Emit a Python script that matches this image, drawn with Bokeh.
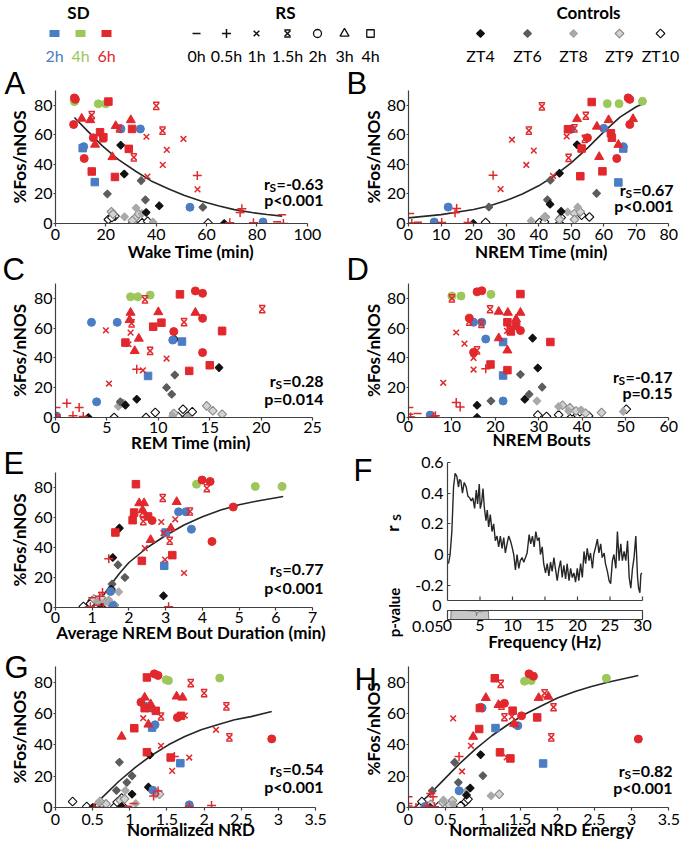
import math
from bokeh.plotting import figure
from bokeh.models import Label, Range1d, FixedTicker, CustomJSTickFormatter
from bokeh.layouts import column, row
from bokeh.embed import file_html
from bokeh.resources import INLINE

# ---------------------------------------------------------------- data
# point groups, in this order in every panel (count per group in *_n)
CODES = ["Z4", "Z6", "Z8", "Z9", "Z10", "b2", "b4", "g2",
         "r2", "r3", "r4", "r1", "r15", "r05", "r0"]

A_x = [25.9, 27.3, 36, 41.2, 67, 20.6, 35.7, 58.5, 34, 27.4, 32, 34.3, 38.7,
       22.2, 31.8, 33, 30.5, 22.8, 21, 23.6, 30.8, 34.4, 36.6, 60.6, 22.4,
       11.2, 26, 33.7, 53.4, 82.4, 10.8, 15.6, 7.5, 17, 20,
       7.5, 7.9, 7.2, 15, 11.4, 10.4, 13.8, 23.9, 29.9, 22.6, 15.7,
       21, 17.7, 30.4, 19, 29.1, 14.4, 23.6, 36.1, 44.2, 42.6, 50.8, 56.4, 36.5,
       40, 14.4, 42.5, 25.2, 31.1, 18.9, 56.3, 74, 73.3, 69.2, 78.6, 90.5, 90, 88, 88.5]
A_y = [53, 33.5, 7.5, 12, 0, 20, 16, 11, 29, 4.5, 10.5, 6.7, 1,
       8, 4, 6.5, 2, 6.3, 2.7, 5, 0.7, 0.5, 1.5, 0.3, 4,
       52, 64, 64, 11, 1, 51, 28, 82.5, 81, 81,
       85, 84, 67, 58, 44, 71, 70, 66, 70, 45, 53.4,
       82.5, 61.7, 64, 58.3, 50.5, 35.2, 31.5, 58.7, 49.8, 39.7, 57.2, 23.1, 31.8,
       79.6, 73.3, 62.8, 64.3, 44.8, 57.8, 32.5, 10, 7.5, 0.5, 0.5, 0, 6, 1.2, 0]
A_n = [5, 4, 4, 5, 7, 5, 2, 3, 5, 6, 7, 6, 6, 6, 3]

B_x = [46.4, 43.5, 51.8, 46.9, 19.9, 43.6, 24.7, 42.7, 57.8, 37.7, 41.8, 48.9, 52,
       42, 46.4, 51, 52.8, 51, 23.7, 40.3, 41.8, 46.4, 46.9, 53.2, 55.6,
       60, 50, 66, 12.2, 7.9, 66, 64.5, 61.1, 64.7, 71.9,
       67.5, 68, 68, 55, 64, 51.8, 57.9, 61.5, 69, 64.5, 58.6,
       56.3, 49, 62.2, 62.5, 53.2, 52.8, 59.6, 31.8, 38.5, 36.2, 48.6, 28.3, 44.4,
       41, 37, 54.5, 51, 49.2, 54.2, 26, 14.8, 14.3, 10.2, 18.3, 1, 0.5, 2.9, 0.4]
B_y = [34, 13, 53.3, 8.2, 0, 29.3, 11.1, 16, 20.4, 1.8, 4.4, 7.8, 11.1,
       4.4, 2.7, 6.7, 7.8, 2.7, 0.7, 0.7, 1.1, 0, 4, 5.6, 4.4,
       64.4, 63.8, 52, 11.1, 1, 50.7, 27.8, 81.1, 81.1, 82.7,
       85, 84, 67, 58, 44, 70.7, 65.6, 70, 70.7, 53.3, 45.1,
       82.2, 63.8, 61.1, 58, 50.7, 32, 35.3, 56.7, 49.3, 39.6, 58.9, 23.3, 32.2,
       79.3, 62.9, 72.9, 64.4, 44.4, 57.3, 32.7, 10.2, 7.2, 0.7, 0.7, 0, 6.7, 0.8, 0.3]
B_n = [5, 4, 4, 5, 7, 5, 2, 3, 5, 6, 7, 6, 6, 6, 3]

C_x = [15.9, 11.6, 7.9, 6.8, 3.2, 11.6, 10.8, 11.3, 6.3, 6.1, 11.4, 12.9, 6.6,
       6.4, 11.5, 14.7, 15.3, 16.2, 5.7, 8.8, 9.7, 11.9, 12.4, 12.8, 13.3,
       3.5, 6, 11.4, 4, 0.1, 12.3, 9, 7.3, 8, 9.2,
       13.6, 14.3, 14.3, 11.5, 14.3, 7.3, 10, 13.6, 7.2, 8.1, 7.7,
       12.1, 10.3, 9.5, 16.2, 6.8, 13, 15, 4.9, 7.3, 7.1, 10.8, 8.5, 5.2,
       8.7, 20.1, 7.4, 12.5, 9.2, 16.2, 7.9, 1.1, 2.3, 1.7, 2.7, 0.1, 0.1, 0.1, 0.1]
C_y = [33.5, 52.5, 12.3, 8.3, 0, 28.6, 20.1, 15.6, 10.5, 7.4, 1.1, 0.3, 9.8,
       9.6, 2.7, 7.8, 4.5, 2.2, 0, 0, 3.4, 0.7, 5.6, 0.7, 3.8,
       63.9, 63.9, 52, 10.5, 1, 51, 27.9, 81.1, 81.1, 82.2,
       85, 83.4, 66.6, 57.7, 43.6, 70.4, 70.8, 70.4, 65.5, 53, 44.7,
       82.7, 63.7, 61, 58.1, 50.3, 31.3, 35.1, 58.5, 57, 49.2, 39.6, 31.7, 22.8,
       79.3, 72.8, 63.2, 64.1, 44.7, 58.1, 32.4, 9.6, 6.7, 1.1, 0.7, 0.3, 6.7, 1.8, 0.4]
C_n = [5, 4, 4, 5, 7, 5, 2, 3, 5, 6, 7, 6, 6, 6, 3]

D_x = [29.8, 28.6, 26.8, 15.8, 15.8, 25.8, 30.8, 27.8, 19, 29.6, 34.6, 36.9, 39.8, 49.5,
       35.5, 38.6, 44.5, 40.8, 37.2, 29.8, 31.8, 34.6, 37.5, 37.7, 39.5, 41.5, 50.2,
       15, 16.9, 17.8, 21.8, 5, 21.8, 21.8, 10, 12.1, 19,
       15.8, 16.9, 14, 25.8, 15, 20.8, 22.9, 25.8, 24.8, 20.8, 22.8,
       25.8, 22.8, 24.8, 23.6, 32.7, 18.9, 22.8, 11, 12.9, 15, 15, 8, 22.7,
       10, 18.8, 14, 16.8, 15.8, 23.3, 17.8, 11, 11.9, 6.2, 5.8, 0.5, 0.2, 0.2, 2.1, 0.2]
D_y = [33.3, 53.3, 12.2, 8.2, 0, 28.9, 20.4, 15.6, 11.1, 11.1, 7.3, 4.4, 5.1, 4,
       8.2, 4.4, 3.3, 2.9, 6.5, 1.6, 0.7, 1.8, 0, 3.8, 3.8, 1.1, 5.6,
       64, 64, 52.7, 11.1, 1.6, 50.7, 28.2, 81.6, 81.6, 82.7,
       84.4, 85.1, 66.7, 58.4, 43.8, 71.1, 70.4, 70.4, 66, 53.3, 45.1,
       82.9, 64, 61.6, 57.8, 50.7, 35.6, 31.8, 57.1, 49.6, 40, 32.2, 23.3, 58.2,
       80, 72.7, 64.4, 62.9, 45.1, 58.6, 32.7, 10, 7.1, 1.1, 0.5, 0.3, 6.7, 2.2, 2.7, 0.4]
D_n = [5, 4, 5, 5, 8, 5, 2, 3, 5, 6, 7, 6, 6, 6, 4]

E_x = [1.74, 1.56, 2.94, 1.52, 1.25, 1.7, 1.89, 1.54, 1.52, 1.72, 1.45, 1.3, 1.15,
       1.05, 1.19, 1.47, 1.6, 1.25, 0.76, 1.0, 1.1, 1.25, 1.43, 1.3, 0.95,
       3.35, 3.55, 3.7, 1.5, 1.56, 3.0, 2.96, 3.84, 5.44, 6.17,
       3.99, 4.21, 4.84, 2.63, 4.26, 2.28, 2.41, 3.3, 2.37, 3.14, 2.59,
       2.19, 2.14, 2.52, 2.1, 1.63, 2.35, 3.18, 2.88, 2.94, 2.43, 3.26, 3.5, 2.98,
       4.12, 2.92, 3.66, 2.37, 3.11, 2.39, 1.45, 1.28, 1.2, 3.08, 0.95, 1.3, 1.0, 1.15, 0.9]
E_y = [52.9, 33.3, 7.8, 12.2, 0, 28.4, 20, 15.6, 11.1, 10.4, 5, 2.5, 4.5,
       5.6, 2.9, 3.3, 1.5, 6.5, 0.7, 4.5, 1.5, 1.1, 1.6, 3.5, 2.5,
       63.8, 63.8, 52.2, 10.7, 1.1, 50, 27.8, 82.2, 80.7, 80.7,
       85, 84, 67, 58, 44, 69.6, 69.6, 70.4, 64.9, 52.9, 45.1,
       82.2, 63.3, 60.7, 58.2, 50, 31.1, 34.9, 57, 49.6, 39.6, 58.8, 23, 32,
       79.5, 73, 64, 63, 44.5, 57.5, 32.5, 10, 7.5, 0.5, 0.5, 0, 6.5, 1.5, 0.3]
E_n = [5, 4, 4, 5, 7, 5, 2, 3, 5, 6, 7, 6, 6, 6, 3]

G_x = [1.27, 1.25, 1.03, 0.89, 0.5, 0.86, 1.03, 0.96, 0.82, 0.94, 0.58, 1.35, 1.08,
       0.68, 0.87, 0.93, 1.4, 0.6, 0.23, 0.42, 0.62, 0.8, 0.83, 0.91, 0.89,
       1.34, 1.25, 1.31, 1.8, 1.22, 1.68, 1.3, 1.52, 2.21, 1.49,
       1.33, 1.38, 1.15, 1.64, 2.91, 1.2, 1.28, 1.63, 1.71, 0.89, 1.25,
       1.23, 1.2, 1.35, 1.06, 1.23, 1.55, 1.69, 1.18, 1.74, 2.16, 1.42, 1.8, 1.57,
       1.82, 2.0, 2.3, 2.34, 1.42, 1.27, 1.6, 1.38, 1.32, 1.8, 2.1, 0.52, 1.05, 0.98, 0.58]
G_y = [33.6, 13, 8.5, 0.6, 0, 28.9, 20.2, 16, 10.9, 10.9, 3.4, 8.5, 2.5,
       2.3, 4.5, 5.5, 8.5, 3.8, 3.8, 0.6, 2.3, 0.6, 3.4, 0.6, 6,
       52.8, 64, 11, 1.7, 64.5, 28.3, 51, 81, 82.6, 81.5,
       85.3, 84.3, 67.2, 57.4, 43.8, 70.2, 66, 70.9, 70.2, 45.3, 53,
       83, 63.4, 61.7, 50.6, 35.3, 31.9, 58.5, 57, 58.7, 49.6, 39.4, 31.9, 23.4,
       79.4, 73, 64.5, 44.7, 58.1, 63.5, 32.6, 10.6, 7.4, 0.6, 1.2, 0, 2.5, 0.8, 0.2]
G_n = [5, 4, 4, 5, 7, 5, 2, 3, 5, 6, 7, 6, 6, 6, 3]

H_x = [0.97, 0.83, 0.78, 0.29, 0.62, 1.0, 0.67, 0.32, 0.78, 1.11, 0.47, 0.6,
       1.22, 0.46, 0.59, 0.55, 0.3, 0.16, 0.18, 0.41, 0.6, 0.7, 0.77, 0.8,
       0.99, 1.47, 0.68, 0.22, 0.97, 1.17, 1.81, 1.56, 1.65, 2.66,
       1.62, 1.68, 1.29, 1.52, 3.09, 1.04, 1.21, 1.75, 1.88, 0.87, 1.42,
       1.16, 0.96, 1.4, 0.95, 1.23, 1.37, 1.73, 0.6, 0.84, 0.72, 1.39, 1.44, 1.32,
       1.24, 1.83, 1.95, 1.92, 1.29, 1.25, 0.68, 0.33, 0.3, 0.25, 0.35, 0.1, 0.0, 0.0, 0.0, 0.02]
H_y = [33.7, 12.4, 7.9, 0, 28.8, 20.3, 16, 10.7, 10.7, 7.5, 4.7, 2,
       8.5, 3.2, 4.3, 1.5, 2, 0.6, 3.8, 1.1, 0, 1.1, 3.8, 5.3,
       63.5, 52.2, 10.7, 0.6, 64, 50.7, 28.1, 80.6, 81, 82.5,
       85.3, 83.8, 66.5, 58.5, 43.7, 70, 65.5, 70, 70.8, 45.2, 53.5,
       82.5, 63.5, 61.8, 50.1, 35.2, 31.3, 57.5, 56.9, 39.4, 23, 58, 52.7, 32,
       78.9, 72.9, 64, 44.8, 57.6, 65, 32.6, 6.8, 9, 1, 0.5, 0, 6.8, 2.6, 1, 0]
H_n = [4, 4, 4, 5, 7, 5, 2, 3, 5, 6, 7, 6, 6, 6, 4]

# fitted curves
CA_x = [7.5, 12, 18.5, 25, 32, 38, 45, 51, 58, 65, 71, 78, 84, 90]
CA_y = [71.7, 63.9, 52.7, 43.2, 35.2, 28.8, 23.4, 19.1, 15, 11.8, 9.4, 7.4, 6.1, 5.0]
CB_x = [0, 10, 20, 25, 30, 35, 40, 45, 50, 55, 60, 65, 70, 73]
CB_y = [3.8, 6, 9.5, 12, 15.5, 20, 25.5, 32.5, 41, 51, 62, 72, 79, 82]
CE_x = [1.1, 1.3, 1.5, 1.75, 2.0, 2.5, 3.0, 3.5, 4.0, 4.5, 5.0, 5.5, 6.2]
CE_y = [0, 8, 15, 23, 30, 40, 48, 55, 60.5, 65, 68.5, 71, 74]
CG_x = [0.5, 0.62, 0.85, 1.07, 1.29, 1.52, 1.74, 1.96, 2.18, 2.41, 2.63, 2.91]
CG_y = [0, 6, 16.6, 25.5, 33.2, 40, 45.3, 49.6, 52.8, 56, 58, 61.3]
CH_x = [0.08, 0.24, 0.46, 0.68, 0.9, 1.12, 1.35, 1.57, 1.79, 2.01, 2.24, 2.46, 2.68, 3.09]
CH_y = [0, 6.4, 17, 27.7, 37.3, 45.8, 53.3, 59.7, 65, 70, 74, 77.2, 80, 84.2]

# panel F: correlation vs frequency
F_hz = [0.15, 0.4, 0.67, 0.93, 1.18, 1.44, 1.7, 1.85, 2.06, 2.3,
        2.57, 2.88, 3.14, 3.4, 3.65, 3.9, 4.17, 4.43, 4.63, 4.89,
        5.04, 5.25, 5.46, 5.66, 5.92, 6.12, 6.33, 6.59, 6.85, 7.1,
        7.36, 7.62, 7.87, 8.13, 8.39, 8.65, 8.9, 9.16, 9.42, 9.68,
        9.93, 10.19, 10.45, 10.7, 10.97, 11.2, 11.48, 11.73, 12.0, 12.25,
        12.56, 12.8, 13.07, 13.33, 13.59, 13.84, 14.1, 14.3, 14.57, 14.8,
        15.08, 15.34, 15.6, 15.85, 16.1, 16.37, 16.6, 16.88, 17.14, 17.4,
        17.65, 17.9, 18.17, 18.4, 18.7, 18.94, 19.2, 19.45, 19.7, 19.97,
        20.2, 20.48, 20.74, 21.0, 21.25, 21.5, 21.77, 22.0, 22.3, 22.5,
        22.8, 23.06, 23.3, 23.57, 23.8, 24.1, 24.3, 24.6, 24.86, 25.1,
        25.37, 25.6, 25.9, 26.14, 26.4, 26.66, 26.9, 27.17, 27.43, 27.7,
        27.95, 28.2, 28.46, 28.7, 28.97, 29.24, 29.4, 29.6, 29.75, 29.9]
F_rs = [-0.06, 0.0, 0.15, 0.44, 0.53, 0.51, 0.44, 0.49, 0.48, 0.40,
        0.47, 0.44, 0.38, 0.37, 0.35, 0.37, 0.30, 0.42, 0.33, 0.46,
        0.30, 0.34, 0.43, 0.31, 0.22, 0.29, 0.18, 0.26, 0.15, 0.20,
        0.09, 0.12, 0.05, 0.12, 0.04, 0.11, 0.01, 0.07, 0.12, 0.09,
        0.05, 0.0, -0.10, 0.0, -0.09, -0.04, -0.02, -0.05, -0.02, 0.01,
        0.13, 0.07, 0.12, 0.05, 0.15, 0.09, 0.11, 0.0, 0.05, -0.06,
        -0.12, -0.06, -0.14, -0.05, -0.11, -0.02, -0.09, -0.17, -0.09, -0.04,
        -0.15, -0.07, -0.16, -0.06, -0.17, -0.09, -0.15, -0.12, -0.18, -0.09,
        -0.17, -0.06, -0.15, 0.02, -0.06, 0.04, -0.04, 0.01, -0.09, 0.0,
        0.05, 0.10, 0.01, 0.07, -0.02, 0.01, -0.06, -0.11, -0.17, -0.19,
        -0.04, 0.0, -0.09, 0.15, -0.04, 0.07, -0.04, 0.02, -0.04, 0.09,
        -0.15, -0.22, -0.09, -0.02, 0.12, -0.15, -0.22, -0.25, -0.13, -0.12]
P_hz = [0.5, 0.55, 1.0, 2.0, 3.0, 3.5, 4.0, 4.4, 4.45, 4.6, 5.0, 5.4, 5.5, 6.0, 6.3, 6.35]
P_val = [0.05, 0.002, 0.0, 0.0, 0.0005, 0.002, 0.003, 0.004, 0.03, 0.008,
         0.006, 0.008, 0.003, 0.002, 0.004, 0.05]

# legend entries
SD_labels = ["2h", "4h", "6h"]
RS_labels = ["0h", "0.5h", "1h", "1.5h", "2h", "3h", "4h"]
RS_codes = ["0", "05", "1", "15", "2", "3", "4"]
CTRL_labels = ["ZT4", "ZT6", "ZT8", "ZT9", "ZT10"]
CTRL_codes = ["Z4", "Z6", "Z8", "Z9", "Z10"]

# ---------------------------------------------------------------- styles
FONT = "Lato"
LFONT = "Liberation Sans"
AX = "#404040"
SD_COL = {"b": "#4a7dc4", "g": "#9cc75b", "r": "#e1282d"}
CT_FILL = {"Z4": "#111111", "Z6": "#5c5c5c", "Z8": "#a9a9a9", "Z9": "#d3d3d3", "Z10": "#ffffff"}
CT_LINE = {"Z4": "#111111", "Z6": "#5c5c5c", "Z8": "#a9a9a9", "Z9": "#8a8a8a", "Z10": "#111111"}
CT_SIZE = {"Z4": 5.5, "Z6": 5.5, "Z8": 5.5, "Z9": 6.2, "Z10": 6.2}
RS_MARK = {"0": "dash", "05": "cross", "1": "x", "15": "xbar",
           "2": "circle", "3": "triangle", "4": "square"}
ORDER = ["Z10", "Z9", "Z8", "Z6", "Z4", "b2", "b4", "g2",
         "r0", "r05", "r1", "r15", "r2", "r3", "r4"]
BOLD_W = {"=": 0.58, "-": 0.37, ".": 0.27, "<": 0.58, "p": 0.59, "r": 0.40, "S": 0.52}


def text_w(s, size):
    return sum(BOLD_W.get(c, 0.58) for c in s) * size


def ctrl_mark(p, x, y, code):
    p.scatter(x, y, marker="square", angle=math.pi / 4, size=CT_SIZE[code],
              fill_color=CT_FILL[code], line_color=CT_LINE[code], line_width=1.1)


def rs_mark(p, x, y, rs, color, filled, bar_dy):
    m = RS_MARK[rs]
    if m in ("circle", "triangle", "square"):
        size = {"circle": 8, "triangle": 9, "square": 7.5}[m]
        p.scatter(x, y, marker=m, size=size, fill_color=color if filled else "white",
                  line_color=color, line_width=1.0 if filled else 1.3)
    elif m == "xbar":
        p.scatter(x, y, marker="x", size=8, line_color=color, line_width=1.5)
        p.scatter(x, [v + bar_dy for v in y], marker="dash", size=6.5, line_color=color, line_width=1.5)
        p.scatter(x, [v - bar_dy for v in y], marker="dash", size=6.5, line_color=color, line_width=1.5)
    else:
        size = {"dash": 8, "cross": 9, "x": 8}[m]
        p.scatter(x, y, marker=m, size=size, line_color=color, line_width=1.5)


def draw_points(p, xs, ys, ns, bar_dy):
    assert len(xs) == len(ys) == sum(ns), (len(xs), len(ys), sum(ns))
    cats = []
    for c, k in zip(CODES, ns):
        cats += [c] * k
    for code in ORDER:
        idx = [i for i, c in enumerate(cats) if c == code]
        if not idx:
            continue
        x = [xs[i] for i in idx]
        y = [ys[i] for i in idx]
        if code.startswith("Z"):
            ctrl_mark(p, x, y, code)
        else:
            rs_mark(p, x, y, code[1:], SD_COL[code[0]], True, bar_dy)


def style_axis(ax, tick_in=0, tick_out=3, standoff=1, label_standoff=0, label=None):
    ax.axis_line_color = AX
    ax.axis_line_width = 1.2
    ax.major_tick_line_color = AX
    ax.major_tick_line_width = 1.2
    ax.major_tick_in = tick_in
    ax.major_tick_out = tick_out
    ax.minor_tick_line_color = None
    ax.major_label_text_font = FONT
    ax.major_label_text_font_size = "16px"
    ax.major_label_text_color = "black"
    ax.major_label_standoff = standoff
    ax.formatter = CustomJSTickFormatter(code="return tick.toString()")
    if label:
        ax.axis_label = label
        ax.axis_label_text_font = FONT
        ax.axis_label_text_font_size = "17px"
        ax.axis_label_text_font_style = "bold"
        ax.axis_label_text_color = "black"
        ax.axis_label_standoff = label_standoff


def lab(p, x, y, text, size="16px", bold=False, align="center", baseline="middle",
        dx=0, dy=0, angle=0, color="black", font=FONT, yname="default"):
    p.add_layout(Label(x=x, y=y, x_offset=dx, y_offset=dy, text=text, angle=angle,
                       text_font=font, text_font_size=size,
                       text_font_style="bold" if bold else "normal",
                       text_align=align, text_baseline=baseline, text_color=color,
                       y_range_name=yname))


def base_fig(w, h, bl, br, bt, bb, xr, yr, **kw):
    p = figure(width=w, height=h, x_range=Range1d(*xr), y_range=Range1d(*yr),
               output_backend="svg", toolbar_location=None,
               min_border_left=bl, min_border_right=br,
               min_border_top=bt, min_border_bottom=bb, **kw)
    p.outline_line_color = None
    p.xgrid.visible = False
    p.ygrid.visible = False
    p.background_fill_color = "white"
    p.border_fill_color = "white"
    return p


def gutter(w, h):
    """blank strip (pixel coordinates, y downwards) for texts outside the plot frames"""
    g = figure(width=w, height=h, x_range=Range1d(0, w), y_range=Range1d(h, 0),
               output_backend="svg", toolbar_location=None, min_border=0,
               x_axis_location=None, y_axis_location=None)
    g.outline_line_color = None
    g.xgrid.visible = False
    g.ygrid.visible = False
    return g


def letter(g, x, y, t):
    lab(g, x, y, t, size="31px", font=LFONT, align="left")


def ylab(g, x, y, t="%Fos/nNOS", size="17px"):
    lab(g, x, y, t, size=size, bold=True, angle=math.pi / 2)


# ---------------------------------------------------------------- scatter panels
L_W, L_BL, L_BR = 310, 23, 14
R_W, R_BL, R_BR = 297, 24, 6


def scatter_panel(xs, ys, ns, xmax, xticks, xlabel, cx, cy, rs_val, p_txt,
                  rs_y, p_y, w, h, bl, br, bt, bb, data_px, tstand, lstand, ann_dx):
    frame_w = w - bl - br
    frame_h = h - bt - bb
    xend = xmax * frame_w / data_px
    p = base_fig(w, h, bl, br, bt, bb, (0, xend), (0, 90))
    p.xaxis.ticker = FixedTicker(ticks=xticks)
    p.yaxis.ticker = FixedTicker(ticks=[0, 20, 40, 60, 80])
    style_axis(p.xaxis[0], tick_out=3, standoff=tstand, label_standoff=lstand, label=xlabel)
    style_axis(p.yaxis[0], tick_out=2, standoff=1)
    p.xaxis[0].bounds = (0, xmax)
    if cx:
        p.line(cx, cy, line_color="#262626", line_width=1.6)
    draw_points(p, xs, ys, ns, 3.6 * 90.0 / frame_h)
    w1 = text_w(rs_val, 16)
    lab(p, xend, rs_y, rs_val, bold=True, align="right", dx=ann_dx)
    lab(p, xend, rs_y, "S", size="12px", bold=True, align="right", dx=ann_dx - w1, dy=-4)
    lab(p, xend, rs_y, "r", bold=True, align="right", dx=ann_dx - w1 - text_w("S", 12))
    lab(p, xend, p_y, p_txt, bold=True, align="right", dx=ann_dx)
    return p


pA = scatter_panel(A_x, A_y, A_n, 100, [0, 20, 40, 60, 80, 100], "Wake Time (min)",
                   CA_x, CA_y, "=-0.63", "p<0.001", 26.9, 16.2,
                   L_W, 201, L_BL, L_BR, 24, 44, 253.7, 2, -2, -3)
pC = scatter_panel(C_x, C_y, C_n, 25, [0, 5, 10, 15, 20, 25], "REM Time (min)",
                   None, None, "=0.28", "p=0.014", 24.6, 13,
                   L_W, 189, L_BL, L_BR, 16, 39, 259, 1, -4, -3)
pE = scatter_panel(E_x, E_y, E_n, 7, [0, 1, 2, 3, 4, 5, 6, 7], "Average NREM Bout Duration (min)",
                   CE_x, CE_y, "=0.77", "p<0.001", 26.2, 13.3,
                   L_W, 196, L_BL, L_BR, 16, 45, 259, 1, -4, -3)
pG = scatter_panel(G_x, G_y, G_n, 3.5, [0, 0.5, 1, 1.5, 2, 2.5, 3, 3.5], "Normalized NRD",
                   CG_x, CG_y, "=0.54", "p<0.001", 25.1, 13.4,
                   L_W, 191, L_BL, L_BR, 14, 36, 262, 3, -9, -3)
pB = scatter_panel(B_x, B_y, B_n, 80, [0, 10, 20, 30, 40, 50, 60, 70, 80], "NREM Time (min)",
                   CB_x, CB_y, "=0.67", "p<0.001", 22.7, 12.2,
                   R_W, 201, R_BL, R_BR, 24, 44, 261.3, 2, -2, -1)
pD = scatter_panel(D_x, D_y, D_n, 60, [0, 10, 20, 30, 40, 50, 60], "NREM Bouts",
                   None, None, "=-0.17", "p=0.15", 27.8, 16.7,
                   R_W, 186, R_BL, R_BR, 16, 36, 261.3, 0, -6, -2)
pH = scatter_panel(H_x, H_y, H_n, 3.5, [0, 0.5, 1, 1.5, 2, 2.5, 3, 3.5], "Normalized NRD Energy",
                   CH_x, CH_y, "=0.82", "p<0.001", 23.9, 12.8,
                   R_W, 191, R_BL, R_BR, 14, 36, 261.3, 3, -9, -2)

# ---------------------------------------------------------------- panel F (one frame, placed axes)
F_LEFT, F_TOP, F_W, F_H = 340, 453, 340, 199     # figure box on the page
F_X0, F_X1 = 447, 642                            # px of 0 Hz and 30 Hz
F_YT, F_YB = 462, 600                            # px of r=0.6 and r=-0.3
F_P0, F_P5 = 610, 619                            # px of p=0 and p=0.05
hz_px = (F_X1 - F_X0) / 30.0
ppu = (F_YB - F_YT) / 0.9
pp = 0.05 / (F_P5 - F_P0)


def fx(px):
    return (px - F_X0) / hz_px


def fy(py):
    return 0.6 - (py - F_YT) / ppu


pF = base_fig(F_W, F_H, 0, 0, 0, 0, (fx(F_LEFT), fx(F_LEFT + F_W)), (fy(F_TOP + F_H), fy(F_TOP)))
pF.extra_y_ranges = {"p": Range1d(start=(F_TOP + F_H - F_P0) * pp, end=-(F_P0 - F_TOP) * pp)}
pF.xaxis.ticker = FixedTicker(ticks=[0, 5, 10, 15, 20, 25, 30])
pF.yaxis.ticker = FixedTicker(ticks=[-0.2, 0, 0.2, 0.4, 0.6])
style_axis(pF.xaxis[0], tick_out=0, standoff=0, label_standoff=-3, label="Frequency (Hz)")
style_axis(pF.yaxis[0], tick_in=3, tick_out=0, standoff=4)
pF.yaxis[0].fixed_location = 0
pF.yaxis[0].bounds = (-0.3, 0.6)
pF.xaxis[0].fixed_location = fy(F_P5)
pF.xaxis[0].bounds = (0, 30)
# r_s axis base line with inward ticks
pF.segment(x0=[0], y0=[-0.3], x1=[30], y1=[-0.3], line_color=AX, line_width=1.2)
tk = [5, 10, 15, 20, 25, 30]
pF.segment(x0=tk, y0=[-0.3] * len(tk), x1=tk, y1=[-0.3 + 4 / ppu] * len(tk),
           line_color=AX, line_width=1.2)
pF.line(F_hz, F_rs, line_color="#262626", line_width=1.4)
# p-value strip
pF.varea(x=P_hz, y1=P_val, y2=[0.05] * len(P_hz), fill_color="#c8c8c8", y_range_name="p")
pF.line(P_hz, P_val, line_color="#7a7a7a", line_width=1.0, y_range_name="p")
pF.quad(left=[0], right=[30], top=[0], bottom=[0.05], fill_color=None,
        line_color=AX, line_width=1.2, y_range_name="p")
lab(pF, fx(353), fy(470), "F", size="31px", font=LFONT, align="left")
lab(pF, fx(392), fy(528), "r", size="17px", bold=True, angle=math.pi / 2)
lab(pF, fx(396), fy(517), "S", size="12px", bold=True, angle=math.pi / 2)
lab(pF, fx(393), fy(612), "p-value", size="15px", bold=True, angle=math.pi / 2)
lab(pF, fx(441), fy(605), "0", align="right")
lab(pF, fx(443), fy(626), "0.05", align="right")

# ---------------------------------------------------------------- gutters (letters, y titles)
gL = gutter(30, 777)
letter(gL, 4, 17, "A"); ylab(gL, 19, 90.5)
letter(gL, 2, 203, "C"); ylab(gL, 19, 284)
letter(gL, 3, 396.5, "E"); ylab(gL, 19, 473.5)
letter(gL, 4, 601, "G"); ylab(gL, 19, 670.5)

gR1 = gutter(43, 387)
letter(gR1, 6, 17, "B"); ylab(gR1, 33, 90.5)
letter(gR1, 6, 203, "D"); ylab(gR1, 33, 284)

gR2 = gutter(43, 191)
letter(gR2, 14, 17, "H"); ylab(gR2, 33, 84.5)

# ---------------------------------------------------------------- legend
leg = figure(width=680, height=66, x_range=Range1d(0, 680), y_range=Range1d(66, 0),
             output_backend="svg", toolbar_location=None, min_border=0,
             x_axis_location=None, y_axis_location=None)
leg.outline_line_color = None
leg.xgrid.visible = False
leg.ygrid.visible = False
HY, MY, TY = 12, 33, 55
sd_x = [54, 80, 106]
rs_x = [196, 226, 256, 287, 317, 344, 370]
ct_x = [480, 527, 573, 619, 660]
lab(leg, 78, HY, "SD", size="17px", bold=True)
lab(leg, 285, HY, "RS", size="17px", bold=True)
lab(leg, 588, HY, "Controls", size="17px", bold=True)
for xx, t, c in zip(sd_x, SD_labels, ["b", "g", "r"]):
    leg.rect([xx], [MY], width=10, height=7, fill_color=SD_COL[c], line_color=None)
    lab(leg, xx, TY, t, color=SD_COL[c])
for xx, t, c in zip(rs_x, RS_labels, RS_codes):
    rs_mark(leg, [xx], [MY], c, "#111111", False, 3.6)
    lab(leg, xx, TY, t)
for xx, t, c in zip(ct_x, CTRL_labels, CTRL_codes):
    ctrl_mark(leg, [xx], [MY], c)
    lab(leg, xx, TY, t)

left_col = row(gL, column(pA, pC, pE, pG))
right_col = column(row(gR1, column(pB, pD)), pF, row(gR2, pH))
layout = column(leg, row(left_col, right_col))
open("out.html", "w").write(file_html(layout, INLINE))
